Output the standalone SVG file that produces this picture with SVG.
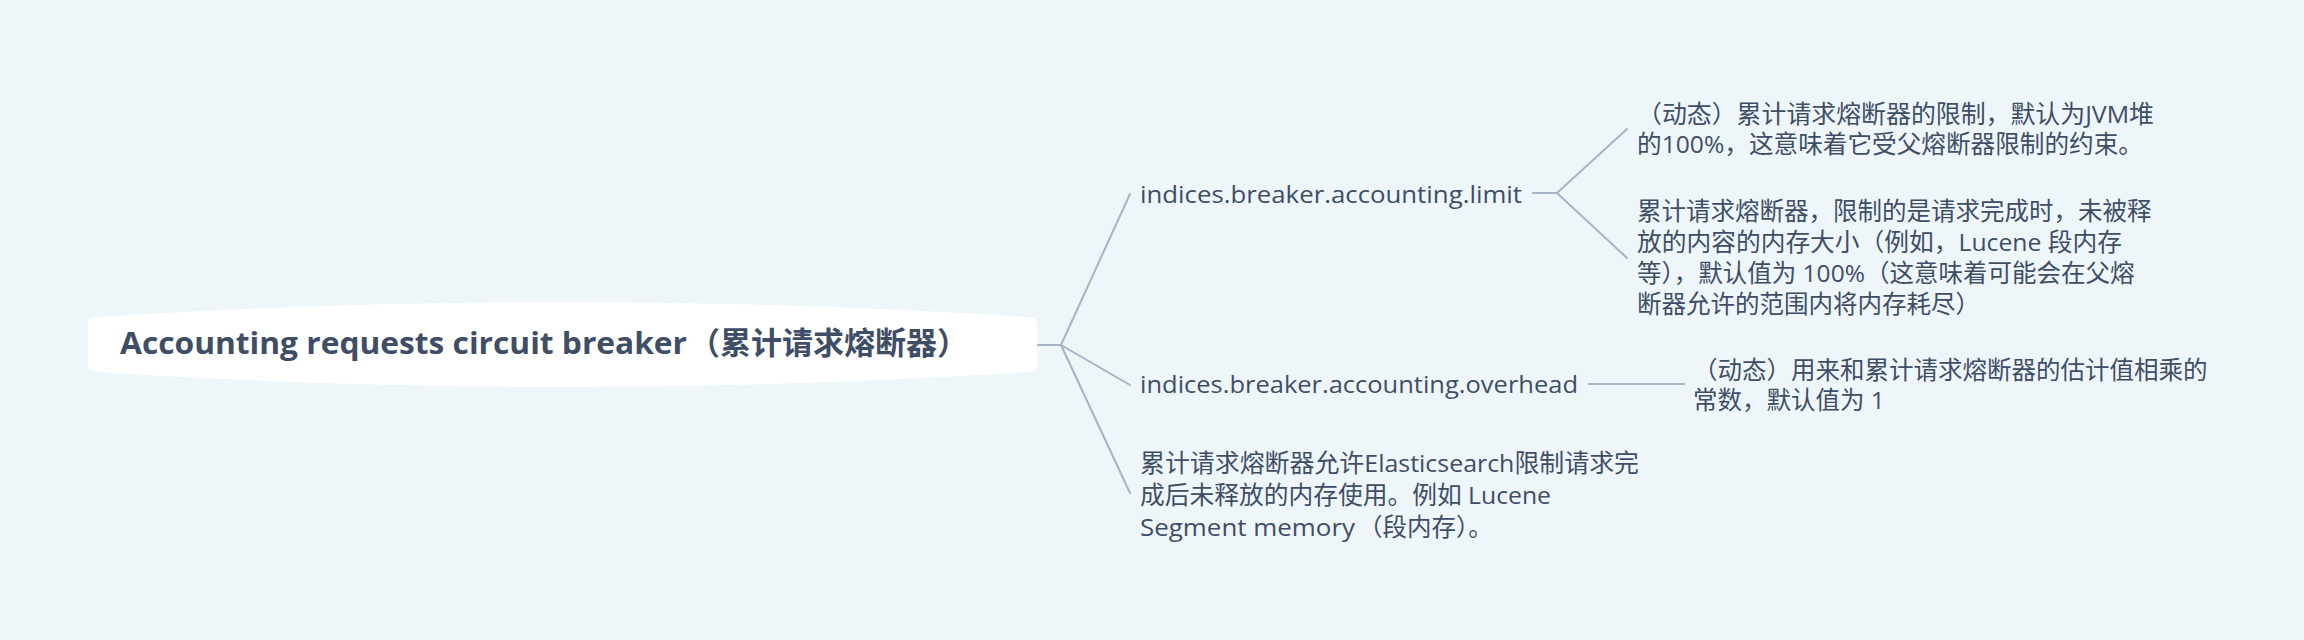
<svg xmlns="http://www.w3.org/2000/svg" width="2304" height="640" viewBox="0 0 2304 640">
<style>
.bg{fill:#eef6fa}
.conn{fill:none;stroke:#a7b4c6;stroke-width:2;stroke-linecap:round;stroke-linejoin:round}
.t{font-family:"Open Sans","Noto Sans CJK SC",sans-serif;font-size:24.5px;fill:#3f4e67}
.root{font-family:"Open Sans","Noto Sans CJK SC",sans-serif;font-size:30px;font-weight:700;fill:#3f4e67}
.rootcjk{font-family:"Noto Sans CJK SC",sans-serif;font-size:31px;font-weight:700;fill:#3f4e67}
</style>
<rect class="bg" x="0" y="0" width="2304" height="640"/>
<g id="connectors">
<path class="conn" d="M1037,345 H1061"/>
<path class="conn" d="M1061,345 L1130,194"/>
<path class="conn" d="M1061,345 L1130,385"/>
<path class="conn" d="M1061,345 L1130,493"/>
<path class="conn" d="M1533,193 H1557 L1627,129"/>
<path class="conn" d="M1557,193 L1627,258"/>
<path class="conn" d="M1589,384 H1684"/>
</g>
<g id="root">
<path d="M96,317 Q562,287 1029,317 Q1037,317 1037,325 L1037,364 Q1037,372 1029,372 Q562,402 96,372 Q88,372 88,364 L88,325 Q88,317 96,317 Z" fill="#ffffff"/>
<text class="root" x="120" y="354" textLength="567" lengthAdjust="spacingAndGlyphs">Accounting requests circuit breaker</text>
<text class="rootcjk" x="689" y="354">（累计请求熔断器）</text>
</g>
<g id="limit">
<text class="t" x="1140" y="203" textLength="382" lengthAdjust="spacingAndGlyphs">indices.breaker.accounting.limit</text>
</g>
<g id="limit-dynamic">
<text class="t" x="1637" y="123" textLength="517" lengthAdjust="spacingAndGlyphs">（动态）累计请求熔断器的限制，默认为JVM堆</text>
<text class="t" x="1637" y="153" textLength="506" lengthAdjust="spacingAndGlyphs">的100%，这意味着它受父熔断器限制的约束。</text>
</g>
<g id="limit-desc">
<text class="t" x="1637" y="220">累计请求熔断器，限制的是请求完成时，未被释</text>
<text class="t" x="1637" y="251" textLength="485" lengthAdjust="spacingAndGlyphs">放的内容的内存大小（例如，Lucene 段内存</text>
<text class="t" x="1637" y="282">等），默认值为 100%（这意味着可能会在父熔</text>
<text class="t" x="1637" y="313">断器允许的范围内将内存耗尽）</text>
</g>
<g id="overhead">
<text class="t" x="1140" y="393" textLength="438" lengthAdjust="spacingAndGlyphs">indices.breaker.accounting.overhead</text>
</g>
<g id="overhead-desc">
<text class="t" x="1693" y="379">（动态）用来和累计请求熔断器的估计值相乘的</text>
<text class="t" x="1693" y="409">常数，默认值为 1</text>
</g>
<g id="summary">
<text class="t" x="1140" y="472" textLength="499" lengthAdjust="spacingAndGlyphs">累计请求熔断器允许Elasticsearch限制请求完</text>
<text class="t" x="1140" y="504" textLength="411" lengthAdjust="spacingAndGlyphs">成后未释放的内存使用。例如 Lucene</text>
<text class="t" x="1140" y="536"><tspan textLength="215" lengthAdjust="spacingAndGlyphs">Segment memory</tspan><tspan x="1358">（段内存）。</tspan></text>
</g>
</svg>
